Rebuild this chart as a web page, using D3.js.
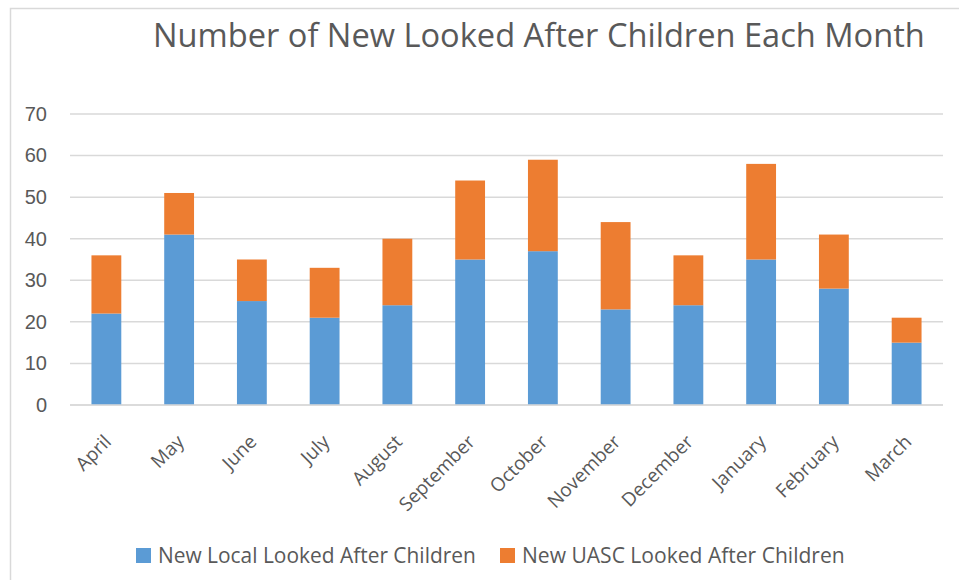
<!DOCTYPE html>
<html>
<head>
<meta charset="utf-8">
<script src="https://cdn.jsdelivr.net/npm/d3@7"></script>
<style>
  body { margin: 0; background: #fff; }
  svg { display: block; font-family: "Open Sans", "Noto Sans", sans-serif; }
</style>
</head>
<body>
<svg id="chart" width="959" height="580"></svg>
<script>
const months = ["April", "May", "June", "July", "August", "September", "October",
  "November", "December", "January", "February", "March"];
const localChildren = [22, 41, 25, 21, 24, 35, 37, 23, 24, 35, 28, 15];
const uascChildren = [14, 10, 10, 12, 16, 19, 22, 21, 12, 23, 13, 6];
const seriesNames = ["New Local Looked After Children", "New UASC Looked After Children"];
const seriesColors = ["#5B9BD5", "#ED7D31"];
const yTicks = [0, 10, 20, 30, 40, 50, 60, 70];

const width = 959, height = 580;
const margin = { top: 114, right: 16, bottom: 175, left: 70 };
const textColor = "#595959";
const gridColor = "#d9d9d9";

const svg = d3.select("#chart");

// outer chart frame
svg.append("rect")
  .attr("x", 10.5).attr("y", 8.5)
  .attr("width", width).attr("height", height)
  .attr("fill", "none").attr("stroke", gridColor).attr("stroke-width", 1.5);

const rows = months.map((m, i) => ({ month: m, local: localChildren[i], uasc: uascChildren[i] }));
const stacked = d3.stack().keys(["local", "uasc"])(rows);

const x = d3.scaleBand()
  .domain(months)
  .range([margin.left, width - margin.right])
  .paddingInner(0.59)
  .paddingOuter(0.295);

const y = d3.scaleLinear()
  .domain([0, 70])
  .range([height - margin.bottom, margin.top]);

// gridlines
svg.append("g")
  .selectAll("line")
  .data(yTicks)
  .join("line")
  .attr("x1", margin.left).attr("x2", width - margin.right)
  .attr("y1", d => y(d)).attr("y2", d => y(d))
  .attr("stroke", gridColor).attr("stroke-width", 1.5);

// y axis labels
const yAxis = svg.append("g")
  .attr("transform", `translate(${margin.left - 23},0)`)
  .call(d3.axisLeft(y).tickValues(yTicks).tickSize(0).tickPadding(0));
yAxis.select(".domain").remove();
yAxis.selectAll("text")
  .attr("fill", textColor)
  .style("font-size", "20px");

// bars
svg.append("g")
  .selectAll("g")
  .data(stacked)
  .join("g")
  .attr("fill", (d, i) => seriesColors[i])
  .selectAll("rect")
  .data(d => d)
  .join("rect")
  .attr("x", d => x(d.data.month))
  .attr("width", x.bandwidth())
  .attr("y", d => y(d[1]))
  .attr("height", d => y(d[0]) - y(d[1]));

// baseline redrawn over bar bottoms
svg.append("line")
  .attr("x1", margin.left).attr("x2", width - margin.right)
  .attr("y1", y(0)).attr("y2", y(0))
  .attr("stroke", gridColor).attr("stroke-width", 1.5);

// month labels, rotated
svg.append("g")
  .selectAll("text")
  .data(months)
  .join("text")
  .attr("transform", d => `translate(${x(d) + x.bandwidth() / 2 + 6},${y(0) + 38}) rotate(-45)`)
  .attr("text-anchor", "end")
  .attr("fill", textColor)
  .style("font-size", "19px")
  .text(d => d);

// title, sized to the reference width
const title = svg.append("text")
  .attr("x", 153).attr("y", 47)
  .attr("fill", textColor)
  .style("font-size", "30px")
  .text("Number of New Looked After Children Each Month");
const tw = title.node().getComputedTextLength();
title.style("font-size", (30 * 772 / tw) + "px");

// legend
const legendItems = [{ x: 136, textW: 318 }, { x: 500, textW: 323 }];
const legend = svg.append("g");
seriesNames.forEach((name, i) => {
  const it = legendItems[i];
  legend.append("rect")
    .attr("x", it.x).attr("y", 548)
    .attr("width", 15).attr("height", 15)
    .attr("fill", seriesColors[i]);
  const t = legend.append("text")
    .attr("x", it.x + 22).attr("y", 563)
    .attr("fill", textColor)
    .style("font-size", "20px")
    .text(name);
  const w = t.node().getComputedTextLength();
  t.style("font-size", (20 * it.textW / w) + "px");
});
</script>
</body>
</html>
